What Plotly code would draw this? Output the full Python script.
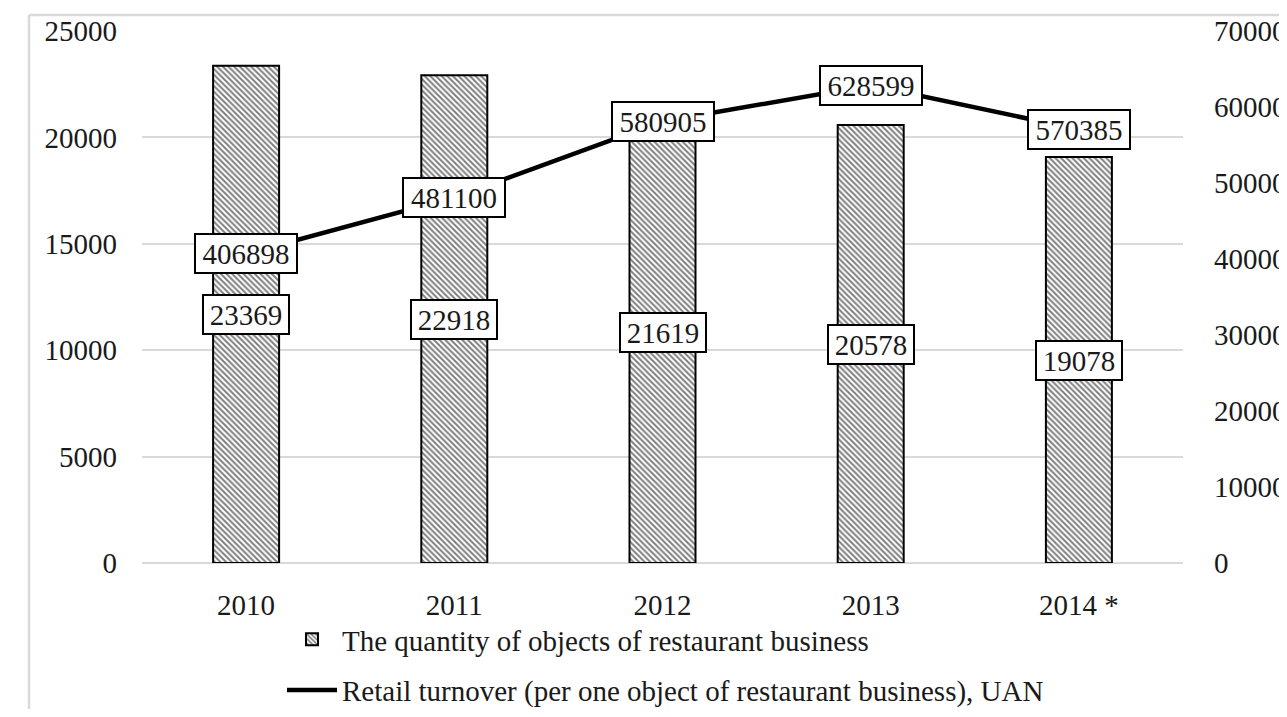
import plotly.graph_objects as go

# ---- data ----
years = ["2010", "2011", "2012", "2013", "2014 *"]
objects_count = [23369, 22918, 21619, 20578, 19078]
turnover = [406898, 481100, 580905, 628599, 570385]
bar_name = "The quantity of objects of restaurant business"
line_name = "Retail turnover (per one object of restaurant business), UAN"
left_ticks = [0, 5000, 10000, 15000, 20000, 25000]
right_ticks = [0, 100000, 200000, 300000, 400000, 500000, 600000, 700000]

FONT = "Liberation Serif"
FS = 29
TXT = "#1a1a1a"
W, H = 1279, 701
ML, MR, MT, MB = 134, 104, 23, 146
PW, PH = W - ML - MR, H - MT - MB

xpos = list(range(len(years)))

fig = go.Figure()
fig.add_trace(go.Bar(
    x=xpos, y=objects_count, name=bar_name, legendgroup="a",
    marker=dict(color="white", line=dict(color="black", width=2),
                pattern=dict(shape="\\", fgcolor="black", bgcolor="white",
                             size=4, solidity=0.5)),
    yaxis="y",
))
fig.add_trace(go.Scatter(
    x=xpos, y=turnover, name=line_name, legendgroup="b",
    mode="lines", line=dict(color="black", width=4.5),
    yaxis="y2",
))

ann = []
for xv, v in zip(xpos, objects_count):
    s = str(v)
    ann.append(dict(x=xv, y=v / 2, xref="x", yref="y", text=s, showarrow=False,
                    font=dict(family=FONT, size=FS, color=TXT),
                    bgcolor="white", bordercolor="black", borderwidth=2,
                    borderpad=3, width=16 * len(s) - 2, height=31))
for xv, v in zip(xpos, turnover):
    s = str(v)
    ann.append(dict(x=xv, y=v, xref="x", yref="y2", text=s, showarrow=False,
                    font=dict(family=FONT, size=FS, color=TXT),
                    bgcolor="white", bordercolor="black", borderwidth=2,
                    borderpad=3, width=16 * len(s) - 2, height=31))

def px_x(p):
    return (p - ML) / PW

def px_y(p):
    return (H - MB - p) / PH

frame = [
    dict(type="line", xref="paper", yref="paper", x0=px_x(21), x1=px_x(W + 20),
         y0=px_y(7), y1=px_y(7), line=dict(color="#d9d9d9", width=2.5)),
    dict(type="line", xref="paper", yref="paper", x0=px_x(21), x1=px_x(21),
         y0=px_y(7), y1=px_y(H + 20), line=dict(color="#d9d9d9", width=2.5)),
]

fig.update_layout(
    width=W, height=H,
    margin=dict(l=ML, r=MR, t=MT, b=MB, autoexpand=False),
    paper_bgcolor="white", plot_bgcolor="white",
    font=dict(family=FONT, size=FS, color=TXT),
    bargap=0.683,
    showlegend=True,
    legend=dict(x=px_x(274), y=px_y(606), xanchor="left", yanchor="top",
                orientation="v", tracegroupgap=10, bgcolor="rgba(0,0,0,0)",
                font=dict(family=FONT, size=FS, color=TXT), itemwidth=50),
    xaxis=dict(range=[-0.5, len(years) - 0.5], tickvals=xpos, ticktext=years,
               showgrid=False, showline=False, zeroline=False, ticks="",
               tickfont=dict(family=FONT, size=FS, color=TXT),
               ticklabelstandoff=22),
    yaxis=dict(range=[0, 25000], tickvals=left_ticks, ticktext=[str(t) for t in left_ticks],
               showgrid=True, gridcolor="#d9d9d9", gridwidth=1.5,
               zeroline=True, zerolinecolor="#d9d9d9", zerolinewidth=1.5,
               showline=False, ticks="", ticklabelstandoff=24,
               tickfont=dict(family=FONT, size=FS, color=TXT)),
    yaxis2=dict(range=[0, 700000], tickvals=right_ticks, ticktext=[str(t) for t in right_ticks],
                overlaying="y", side="right", showgrid=False, zeroline=False,
                showline=False, ticks="", ticklabelstandoff=30,
                tickfont=dict(family=FONT, size=FS, color=TXT)),
    annotations=ann,
    shapes=frame,
)

fig.write_html("out.html")
